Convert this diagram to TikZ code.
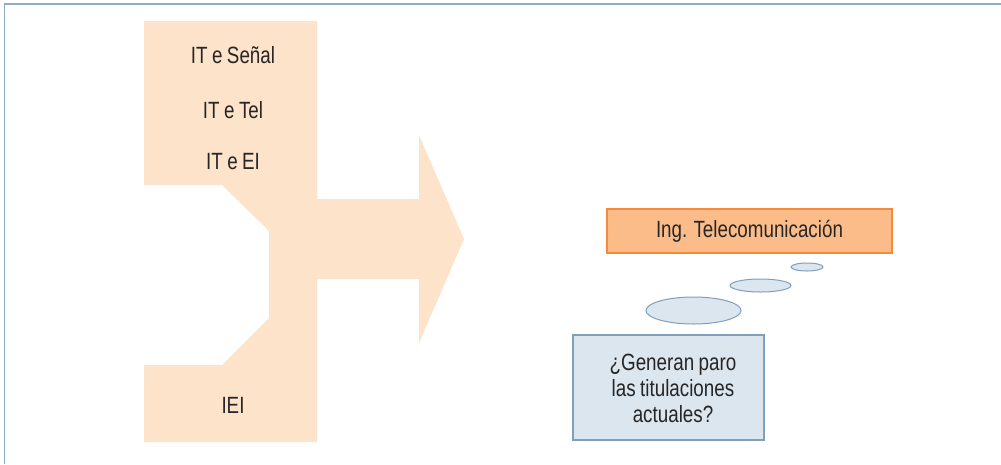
\documentclass[tikz,border=0pt]{standalone}
\usepackage{fontspec}
\setmainfont{Liberation Sans}[FakeStretch=0.8,WordSpace=0.85]
\usetikzlibrary{shapes.geometric}
\definecolor{peach}{HTML}{FDE3CA}
\definecolor{framecol}{HTML}{8DADC6}
\definecolor{orfill}{HTML}{FBBC8A}
\definecolor{ordraw}{HTML}{F58A3A}
\definecolor{bluefill}{HTML}{DCE6EE}
\definecolor{bluedraw}{HTML}{7F9FBB}
\definecolor{txt}{HTML}{262626}
\begin{document}
\begin{tikzpicture}[x=1pt,y=-1pt,
  lbl/.style={text=txt,font=\fontsize{23.5}{26}\selectfont,inner sep=0pt},
  bubble/.style={ellipse,draw=bluedraw,fill=bluefill,line width=1pt,inner sep=0pt}]
\useasboundingbox (0,0) rectangle (1001,464);
% outer frame (top and left edges)
\draw[framecol,line width=1.8pt] (4.5,464) -- (4.5,4) -- (1001,4);
% merging arrow shape
\fill[peach] (144,21) -- (317,21) -- (317,199) -- (419,199) -- (419,135)
  -- (464,239) -- (419,343) -- (419,279) -- (317,279) -- (317,442)
  -- (144,442) -- (144,365) -- (222,365) -- (269,318) -- (269,231)
  -- (222,185) -- (144,185) -- cycle;
\node[lbl] (senal) at (233,55) {IT e Señal};
\node[lbl] (tel) at (233,110) {IT e Tel};
\node[lbl] (ei) at (233,162) {IT e EI};
\node[lbl] (iei) at (233,405) {IEI};
% target degree
\node[lbl,draw=ordraw,fill=orfill,line width=1.2pt,minimum width=285pt,minimum height=44pt] (ing) at (749.5,231) {Ing. Telecomunicación};
% thought bubbles
\node[bubble,minimum width=32pt,minimum height=8pt] (b1) at (807,267) {};
\node[bubble,minimum width=61pt,minimum height=13pt] (b2) at (760.5,285.5) {};
\node[bubble,minimum width=95pt,minimum height=27pt] (b3) at (693.5,310.5) {};
% question box
\node[draw=bluedraw,fill=bluefill,line width=1.2pt,minimum width=191pt,minimum height=105pt] (qbox) at (668.5,387.5) {};
\node[lbl,align=center] (q) at (673,388) {¿Generan paro\\las titulaciones\\actuales?};
\end{tikzpicture}
\end{document}
